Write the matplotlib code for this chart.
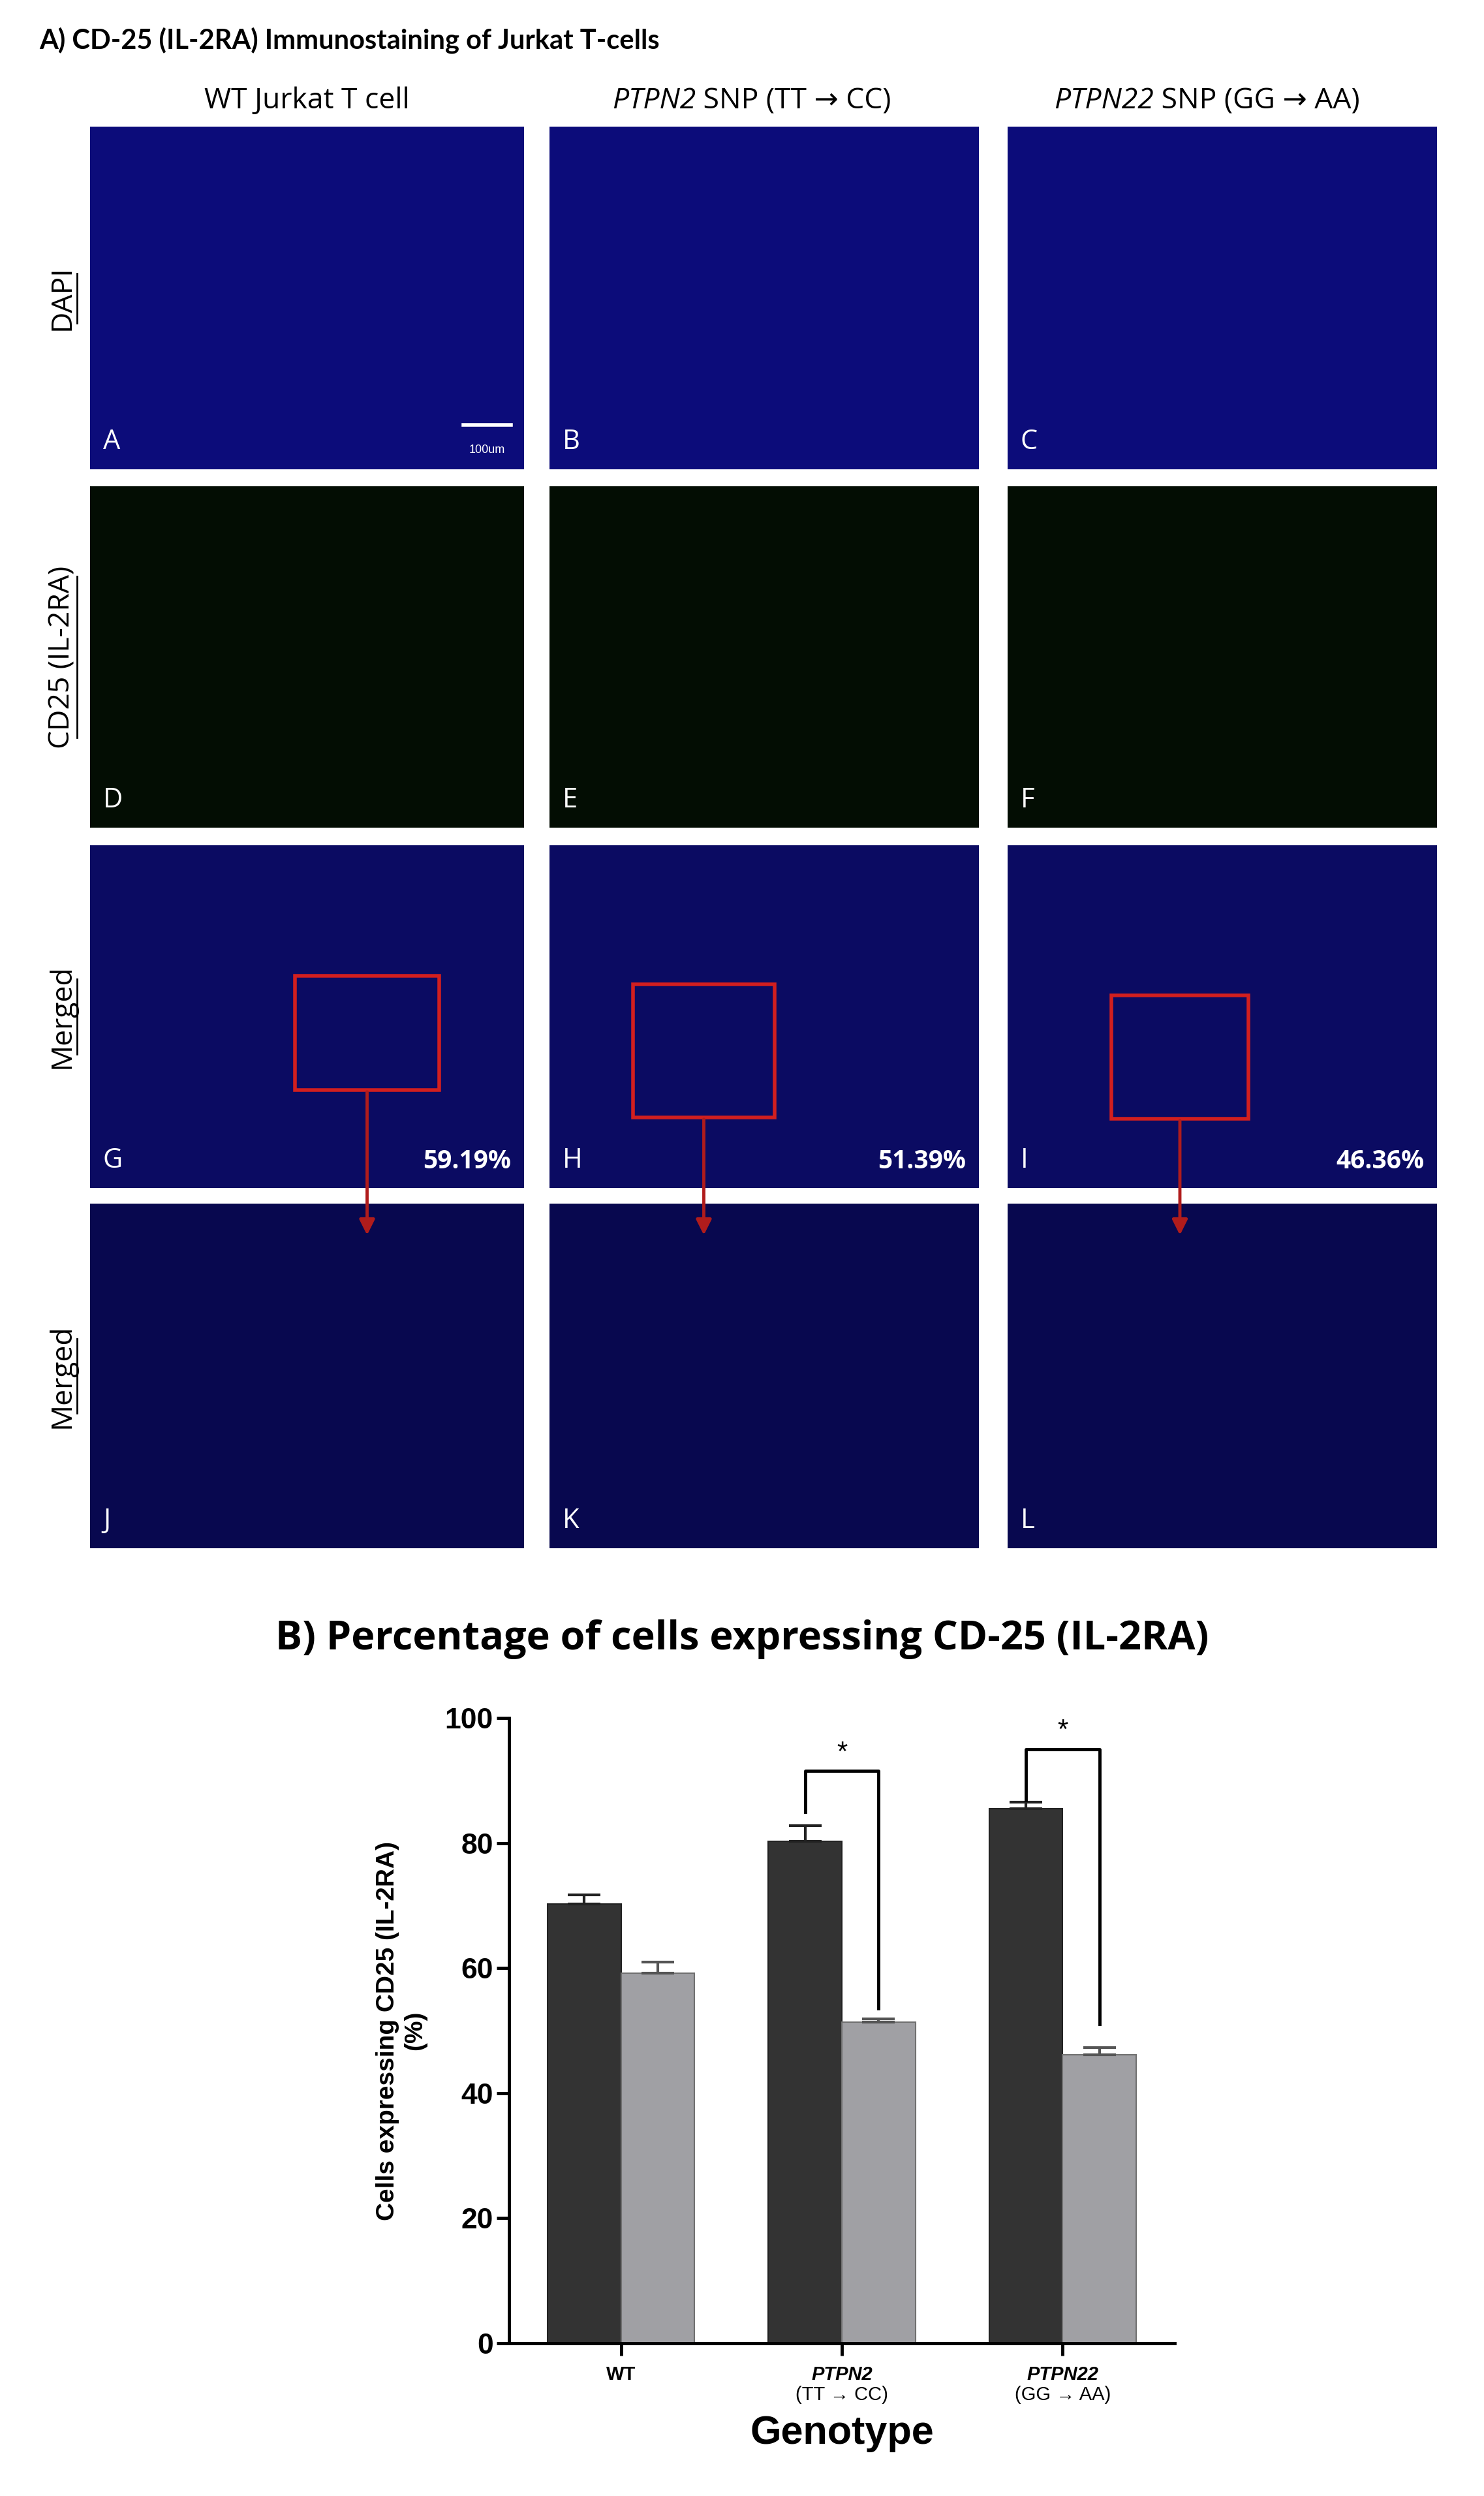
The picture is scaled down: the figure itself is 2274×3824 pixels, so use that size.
import matplotlib.pyplot as plt
from matplotlib.patches import Rectangle, FancyArrowPatch
from matplotlib.lines import Line2D

W, H = 2274, 3824

# ---- data ----
genotypes = ["WT", "PTPN2", "PTPN22"]
genotype_sub = ["", "(TT \u2192 CC)", "(GG \u2192 AA)"]
dark_vals = [70.2, 80.3, 85.5]
dark_err = [1.5, 2.5, 1.0]
light_vals = [59.2, 51.4, 46.1]
light_err = [1.8, 0.5, 1.2]
merged_pct = ["59.19%", "51.39%", "46.36%"]
col_titles = [("", "WT Jurkat T cell"), ("PTPN2", " SNP (TT \u2192 CC)"), ("PTPN22", " SNP (GG \u2192 AA)")]
row_labels = ["DAPI", "CD25 (IL-2RA)", "Merged", "Merged"]
panel_letters = [["A", "B", "C"], ["D", "E", "F"], ["G", "H", "I"], ["J", "K", "L"]]
row_colors = ["#0c0c7a", "#030d03", "#0b0b62", "#08084f"]

FONT = ["Open Sans", "DejaVu Sans"]
plt.rcParams["font.family"] = ["Liberation Sans", "DejaVu Sans"]

fig = plt.figure(figsize=(W / 100, H / 100), dpi=100)
fig.patch.set_facecolor("white")


def fx(px):
    return px / W


def fy(py):
    return 1 - py / H


def pix_axes(x0, y0, x1, y1):
    return fig.add_axes([fx(x0), fy(y1), fx(x1 - x0), (y1 - y0) / H])


fig.text(fx(60), fy(62), "A) CD-25 (IL-2RA) Immunostaining of Jurkat T-cells",
         family=["Lato", "DejaVu Sans"], fontweight="bold", fontsize=30,
         ha="left", va="center")

col_x = [(138, 803), (842, 1500), (1544, 2202)]
row_y = [(194, 719), (745, 1268), (1295, 1820), (1844, 2372)]

# column headers: italic gene name + regular rest, split near centre
for (x0, x1), (it, rest) in zip(col_x, col_titles):
    cx = (x0 + x1) / 2
    if it:
        split = cx - 105
        fig.text(fx(split), fy(155), it, fontsize=32, family=FONT, style="italic",
                 ha="right", va="center")
        fig.text(fx(split), fy(155), rest, fontsize=32, family=FONT,
                 ha="left", va="center")
    else:
        fig.text(fx(cx), fy(155), rest, fontsize=32, family=FONT,
                 ha="center", va="center")

panel_axes = {}
for r, (y0, y1) in enumerate(row_y):
    for c, (x0, x1) in enumerate(col_x):
        ax = pix_axes(x0, y0, x1, y1)
        ax.set_facecolor(row_colors[r])
        ax.set_xlim(0, 1)
        ax.set_ylim(0, 1)
        ax.set_xticks([])
        ax.set_yticks([])
        for s in ax.spines.values():
            s.set_visible(False)
        ax.text(0.03, 0.04, panel_letters[r][c], color="white", fontsize=30,
                family=FONT, ha="left", va="bottom")
        if r == 2:
            ax.text(0.97, 0.04, merged_pct[c], color="white", fontsize=28,
                    family=FONT, fontweight="bold", ha="right", va="bottom")
        panel_axes[(r, c)] = ax
    cy = (y0 + y1) / 2
    fig.text(fx(95), fy(cy), row_labels[r], rotation=90, fontsize=32,
             family=FONT, ha="center", va="center")
    ln = len(row_labels[r]) * 19
    fig.add_artist(Line2D([fx(118), fx(118)], [fy(cy - ln / 2), fy(cy + ln / 2)],
                          color="black", lw=2))

# scale bar on panel A
axA = panel_axes[(0, 0)]
axA.plot([0.86, 0.97], [0.13, 0.13], color="white", lw=4)
axA.text(0.915, 0.04, "100um", color="white", fontsize=13, ha="center", va="bottom")

# red boxes and arrows (pixel coords)
boxes = [(452, 1495, 673, 1670), (970, 1508, 1187, 1712), (1703, 1525, 1913, 1714)]
for bx0, by0, bx1, by1 in boxes:
    fig.add_artist(Rectangle((fx(bx0), fy(by1)), fx(bx1 - bx0), (by1 - by0) / H,
                             fill=False, edgecolor="#d21f1f", lw=4))
    cx = (bx0 + bx1) / 2
    fig.add_artist(FancyArrowPatch((fx(cx), fy(by1)), (fx(cx), fy(1895)),
                                   arrowstyle="-|>", mutation_scale=35,
                                   color="#b01c1c", lw=3.5))

# ---- bar chart ----
fig.text(0.5, fy(2512), "B) Percentage of cells expressing CD-25 (IL-2RA)",
         family=FONT, fontweight="bold", fontsize=44, ha="center", va="center")

ax = pix_axes(780, 2632, 1800, 3590)
xs = list(range(len(genotypes)))
bw = 0.333
ax.bar([x - bw / 2 for x in xs], dark_vals, bw, color="#333333",
       edgecolor="#222222", lw=1.5)
ax.bar([x + bw / 2 for x in xs], light_vals, bw, color="#a0a0a4",
       edgecolor="#707070", lw=1.5)
ax.errorbar([x - bw / 2 for x in xs], dark_vals, yerr=[[0] * 3, dark_err],
            fmt="none", ecolor="#222222", elinewidth=3, capsize=18, capthick=3)
ax.errorbar([x + bw / 2 for x in xs], light_vals, yerr=[[0] * 3, light_err],
            fmt="none", ecolor="#555555", elinewidth=3, capsize=18, capthick=3)

brackets = [(1, 85.0, 91.5, 53.5), (2, 86.8, 95.0, 51.0)]
for g, yl, ytop, yr in brackets:
    ax.plot([g - bw / 2, g - bw / 2, g + bw / 2, g + bw / 2], [yl, ytop, ytop, yr],
            color="black", lw=3.5)
    ax.text(g, ytop + 0.8, "*", fontsize=30, ha="center", va="bottom")

ax.set_xlim(-0.507, 2.507)
ax.set_ylim(0, 100)
ax.set_yticks([0, 20, 40, 60, 80, 100])
ax.set_xticks(xs)
ax.set_xticklabels([])
for x, g, s in zip(xs, genotypes, genotype_sub):
    ax.text(x, -3.5, g, fontsize=21, fontweight="bold", ha="center", va="top",
            style="italic" if g != "WT" else "normal")
    if s:
        ax.text(x, -6.8, s, fontsize=21, ha="center", va="top")
ax.tick_params(axis="both", width=3.5, length=14, labelsize=32)
for lab in ax.get_yticklabels():
    lab.set_fontweight("bold")
for s in ["top", "right"]:
    ax.spines[s].set_visible(False)
for s in ["left", "bottom"]:
    ax.spines[s].set_linewidth(3.5)
ax.set_ylabel("Cells expressing CD25 (IL-2RA)\n(%)", fontsize=28,
              fontweight="bold", labelpad=20)
ax.text(0.5, -0.145, "Genotype", transform=ax.transAxes, fontsize=44,
        fontweight="bold", ha="center", va="center")

fig.savefig("out.png", dpi=100, facecolor="white")
